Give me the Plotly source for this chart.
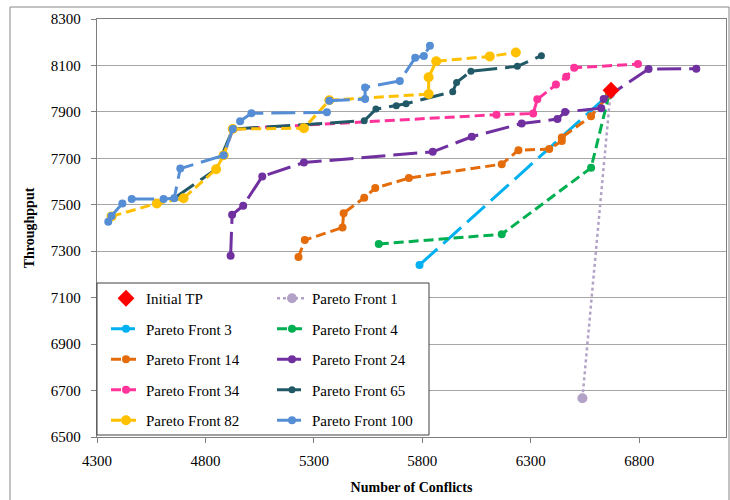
import plotly.graph_objects as go

# Initial throughput point and Pareto fronts (conflicts vs. throughput)
init_x = [6670]
init_y = [7993]

pf1_x = [6538, 6667]
pf1_y = [6667, 7978]

pf3_x = [5787, 6660]
pf3_y = [7241, 7975]

pf4_x = [5599, 6166, 6578, 6660]
pf4_y = [7331, 7373, 7659, 7972]

pf14_x = [5229, 5258, 5432, 5437, 5532, 5583, 5738, 6166, 6243, 6385, 6443, 6443, 6578, 6662]
pf14_y = [7275, 7348, 7402, 7464, 7530, 7572, 7615, 7675, 7735, 7740, 7775, 7790, 7881, 7975]

pf24_x = [4916, 4923, 4974, 5062, 5254, 5848, 6028, 6258, 6423, 6458, 6625, 6636, 6843, 7063]
pf24_y = [7280, 7457, 7496, 7622, 7682, 7728, 7793, 7850, 7869, 7900, 7916, 7955, 8085, 8086]

pf34_x = [4884, 4926, 6142, 6311, 6330, 6416, 6463, 6500, 6794]
pf34_y = [7713, 7826, 7888, 7893, 7954, 8018, 8051, 8090, 8106]

pf65_x = [4656, 4849, 4926, 5532, 5586, 5680, 5725, 5940, 5958, 6024, 6238, 6349]
pf65_y = [7528, 7653, 7826, 7862, 7912, 7926, 7935, 7987, 8027, 8075, 8096, 8142]

pf82_x = [4367, 4576, 4699, 4849, 4884, 4926, 5254, 5371, 5829, 5829, 5864, 6111, 6231]
pf82_y = [7450, 7506, 7528, 7653, 7713, 7826, 7830, 7950, 7977, 8049, 8118, 8139, 8156]

pf100_x = [4352, 4367, 4417, 4460, 4607, 4656, 4684, 4884, 4926, 4960, 5012, 5360, 5371,
           5536, 5536, 5696, 5767, 5807, 5835]
pf100_y = [7427, 7452, 7506, 7525, 7525, 7528, 7656, 7713, 7826, 7860, 7894, 7898, 7948,
           7955, 8005, 8033, 8133, 8141, 8185]

x_ticks = [4300, 4800, 5300, 5800, 6300, 6800]
y_ticks = [6500, 6700, 6900, 7100, 7300, 7500, 7700, 7900, 8100, 8300]

SERIF = "Liberation Serif, Times New Roman, serif"
SHORT = "10px,5px"
LONG = "24px,8px"

fig = go.Figure()


def front(x, y, name, color, dash, legend, msize=8, width=3):
    fig.add_trace(go.Scatter(
        x=x, y=y, name=name, mode="lines+markers",
        line=dict(color=color, width=width, dash=dash),
        marker=dict(color=color, size=msize, symbol="circle"),
        legend=legend, legendgroup=name,
    ))


# drawing order: later fronts on top
front(pf1_x, pf1_y, "Pareto Front 1", "#B3A2C7", "dot", "legend2", msize=10, width=2.5)
front(pf3_x, pf3_y, "Pareto Front 3", "#00B0F0", LONG, "legend")
front(pf4_x, pf4_y, "Pareto Front 4", "#00B050", SHORT, "legend2")
front(pf14_x, pf14_y, "Pareto Front 14", "#E46C0A", SHORT, "legend")
front(pf24_x, pf24_y, "Pareto Front 24", "#7030A0", LONG, "legend2")
front(pf34_x, pf34_y, "Pareto Front 34", "#FF3399", SHORT, "legend")
front(pf65_x, pf65_y, "Pareto Front 65", "#215967", LONG, "legend2", msize=7)
front(pf82_x, pf82_y, "Pareto Front 82", "#FFC000", SHORT, "legend", msize=10)
front(pf100_x, pf100_y, "Pareto Front 100", "#558ED5", LONG, "legend2")

fig.add_trace(go.Scatter(
    x=init_x, y=init_y, name="Initial TP", mode="markers",
    marker=dict(color="#FF0000", size=13, symbol="diamond"),
    legend="legend", legendgroup="Initial TP",
))

# legend entry order within each column
ranks = {"Initial TP": 1, "Pareto Front 3": 2, "Pareto Front 14": 3, "Pareto Front 34": 4,
         "Pareto Front 82": 5, "Pareto Front 1": 1, "Pareto Front 4": 2, "Pareto Front 24": 3,
         "Pareto Front 65": 4, "Pareto Front 100": 5}
for tr in fig.data:
    tr.legendrank = ranks[tr.name]

W, H = 730, 500
ML, MR, MT, MB = 97, 4, 19, 63
pw, ph = W - ML - MR, H - MT - MB


def px(xp):
    return (xp - ML) / pw


def py(yp):
    return (H - MB - yp) / ph


legend_style = dict(
    font=dict(family=SERIF, size=15, color="#000"),
    bgcolor="rgba(0,0,0,0)", borderwidth=0,
    tracegroupgap=8, orientation="v",
    xanchor="left", yanchor="top", itemwidth=30,
)

fig.update_layout(
    width=W, height=H,
    margin=dict(l=ML, r=MR, t=MT, b=MB),
    paper_bgcolor="white", plot_bgcolor="white",
    font=dict(family=SERIF, size=15, color="#000"),
    xaxis=dict(
        range=[4300, 7200], tickvals=x_ticks, ticktext=[str(v) for v in x_ticks],
        showgrid=False, zeroline=False,
        showline=True, linecolor="#7F7F7F", linewidth=1.3, mirror=True,
        ticks="outside", ticklen=5, tickcolor="#7F7F7F", ticklabelstandoff=5,
        tickfont=dict(family=SERIF, size=15, color="#000"),
        title=dict(text="<b>Number of Conflicts</b>", font=dict(family=SERIF, size=14), standoff=14),
    ),
    yaxis=dict(
        range=[6500, 8300], tickvals=y_ticks, ticktext=[str(v) for v in y_ticks],
        showgrid=True, gridcolor="#A6A6A6", gridwidth=1, zeroline=False,
        showline=True, linecolor="#7F7F7F", linewidth=1.3, mirror=True,
        ticks="outside", ticklen=5, tickcolor="#7F7F7F", ticklabelstandoff=7,
        tickfont=dict(family=SERIF, size=15, color="#000"),
        title=dict(text="<b>Throughpput</b>", font=dict(family=SERIF, size=14), standoff=12),
    ),
    legend=dict(x=px(106), y=py(282), **legend_style),
    legend2=dict(x=px(272), y=py(282), **legend_style),
    shapes=[
        # legend frame
        dict(type="rect", xref="paper", yref="paper",
             x0=px(97), x1=px(429), y0=py(435), y1=py(283),
             fillcolor="white", line=dict(color="#404040", width=1), layer="above"),
        # outer chart frame
        dict(type="rect", xref="paper", yref="paper",
             x0=px(10), x1=px(729), y0=py(505), y1=py(7),
             fillcolor="rgba(0,0,0,0)", line=dict(color="#868686", width=1), layer="below"),
    ],
)

fig.write_html("out.html")
